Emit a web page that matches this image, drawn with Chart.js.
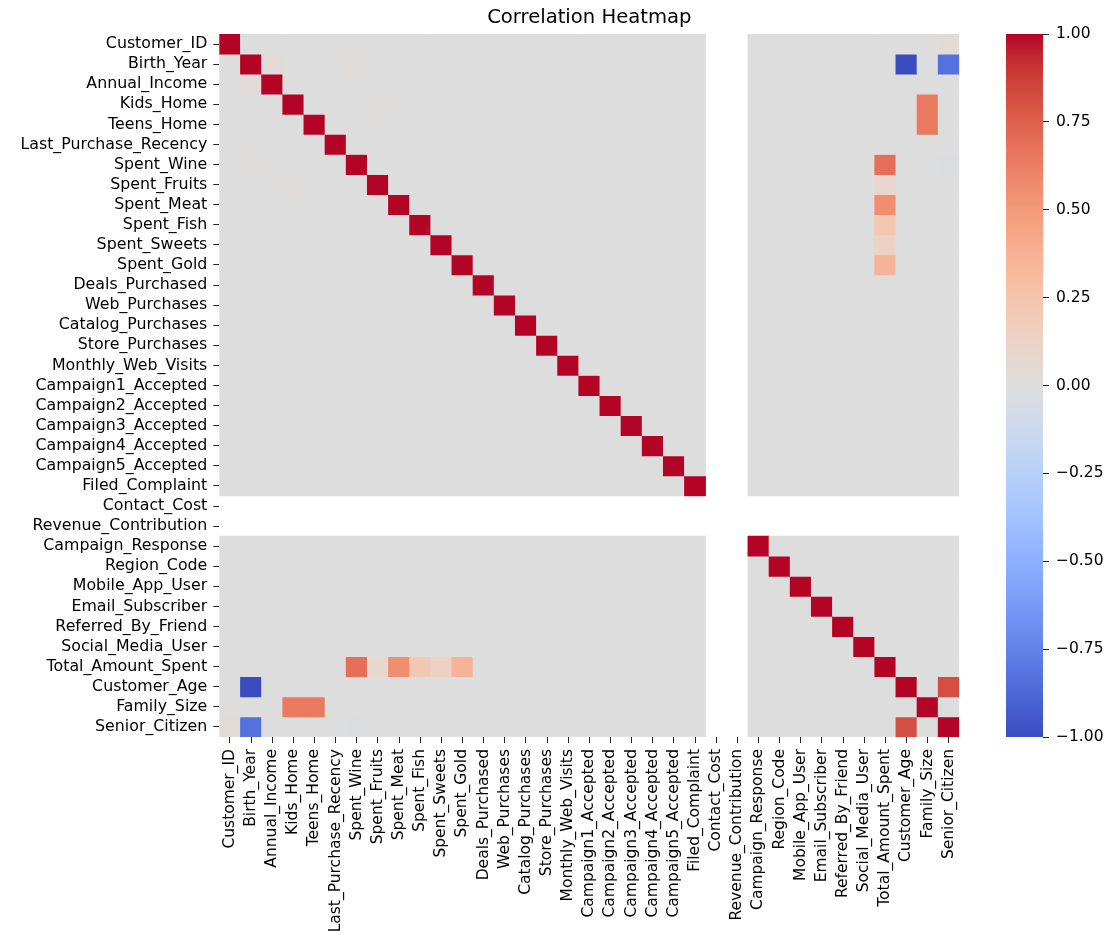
<!DOCTYPE html>
<html>
<head>
<meta charset="utf-8">
<script src="https://cdn.jsdelivr.net/npm/chart.js@4.4.1/dist/chart.umd.min.js"></script>
<style>
  html, body { margin: 0; padding: 0; background: #ffffff; }
  #wrap { position: relative; width: 1110px; height: 938px; }
  #wrap canvas { position: absolute; top: 0; }
  #main { left: 0; }
  #cbar { left: 960px; }
</style>
</head>
<body>
<div id="wrap">
  <canvas id="main" width="1110" height="938"></canvas>
  <canvas id="cbar" width="150" height="938"></canvas>
</div>
<script>
// ---------------- DATA ----------------
const variables = [
  'Customer_ID', 'Birth_Year', 'Annual_Income', 'Kids_Home', 'Teens_Home',
  'Last_Purchase_Recency', 'Spent_Wine', 'Spent_Fruits', 'Spent_Meat', 'Spent_Fish',
  'Spent_Sweets', 'Spent_Gold', 'Deals_Purchased', 'Web_Purchases', 'Catalog_Purchases',
  'Store_Purchases', 'Monthly_Web_Visits', 'Campaign1_Accepted', 'Campaign2_Accepted',
  'Campaign3_Accepted', 'Campaign4_Accepted', 'Campaign5_Accepted', 'Filed_Complaint',
  'Contact_Cost', 'Revenue_Contribution', 'Campaign_Response', 'Region_Code',
  'Mobile_App_User', 'Email_Subscriber', 'Referred_By_Friend', 'Social_Media_User',
  'Total_Amount_Spent', 'Customer_Age', 'Family_Size', 'Senior_Citizen'
];

// Constant columns -> correlation undefined (blank cells)
const undefinedVars = ['Contact_Cost', 'Revenue_Contribution'];

// Notable correlations (symmetric)
const strongPairs = [
  ['Birth_Year', 'Customer_Age', -1.00],
  ['Birth_Year', 'Senior_Citizen', -0.83],
  ['Customer_Age', 'Senior_Citizen', 0.82],
  ['Kids_Home', 'Family_Size', 0.65],
  ['Teens_Home', 'Family_Size', 0.65],
  ['Spent_Wine', 'Total_Amount_Spent', 0.69],
  ['Spent_Fruits', 'Total_Amount_Spent', 0.08],
  ['Spent_Meat', 'Total_Amount_Spent', 0.56],
  ['Spent_Fish', 'Total_Amount_Spent', 0.22],
  ['Spent_Sweets', 'Total_Amount_Spent', 0.14],
  ['Spent_Gold', 'Total_Amount_Spent', 0.36]
];

// A few faint near-zero correlations visible as slight tints
const weakPairs = [
  ['Customer_ID', 'Senior_Citizen', 0.03],
  ['Birth_Year', 'Annual_Income', 0.02],
  ['Birth_Year', 'Spent_Wine', 0.015],
  ['Spent_Fruits', 'Kids_Home', 0.015],
  ['Spent_Wine', 'Senior_Citizen', -0.02]
];

// Colour-bar ticks
const cbarTicks = [-1.00, -0.75, -0.50, -0.25, 0.00, 0.25, 0.50, 0.75, 1.00];

// coolwarm colormap (Moreland), 33 control points
const coolwarm = [
  [59,76,192],[68,90,204],[77,104,215],[87,117,225],[98,130,234],[108,142,241],
  [119,154,247],[130,165,251],[141,176,254],[152,185,255],[163,194,255],[174,201,253],
  [184,208,249],[194,213,244],[204,217,238],[213,219,230],[221,221,221],[229,216,209],
  [236,211,197],[241,204,185],[245,196,173],[247,187,160],[247,177,148],[247,166,135],
  [244,154,123],[241,141,111],[236,127,99],[229,112,88],[222,96,77],[213,80,66],
  [203,62,56],[192,40,47],[180,4,38]
];

// ---------------- BUILD ----------------
const n = variables.length;
const idx = {};
variables.forEach((v, i) => idx[v] = i);
const matrix = variables.map((r, i) => variables.map((c, j) => {
  if (undefinedVars.includes(r) || undefinedVars.includes(c)) return null;
  return i === j ? 1 : 0;
}));
[...strongPairs, ...weakPairs].forEach(([a, b, v]) => {
  matrix[idx[a]][idx[b]] = v;
  matrix[idx[b]][idx[a]] = v;
});

function cmap(v) {
  let t = (v + 1) / 2;
  t = Math.max(0, Math.min(1, t));
  const pos = t * (coolwarm.length - 1);
  const i = Math.min(Math.floor(pos), coolwarm.length - 2);
  const f = pos - i;
  const a = coolwarm[i], b = coolwarm[i + 1];
  const c = a.map((x, k) => Math.round(x + (b[k] - x) * f));
  return `rgb(${c[0]},${c[1]},${c[2]})`;
}

const FONT = 'DejaVu Sans';
const XTICK_SIZE = 15.5;
const YTICK_SIZE = 15.8;

const datasets = variables.map((rowName, r) => ({
  label: rowName,
  data: variables.map((_, c) => matrix[r][c] === null ? null : [r, r + 1]),
  backgroundColor: variables.map((_, c) => matrix[r][c] === null ? 'rgba(0,0,0,0)' : cmap(matrix[r][c])),
  borderWidth: 0,
  barPercentage: 1,
  categoryPercentage: 1,
  grouped: false
}));

new Chart(document.getElementById('main'), {
  type: 'bar',
  data: { labels: variables, datasets },
  options: {
    responsive: false,
    devicePixelRatio: 1,
    animation: false,
    events: [],
    layout: { padding: { left: 0, right: 150.7, top: 0, bottom: 0 } },
    plugins: {
      legend: { display: false },
      tooltip: { enabled: false },
      title: {
        display: true,
        text: 'Correlation Heatmap',
        fullSize: false,
        color: '#000',
        font: { family: FONT, size: 19.6, weight: 'normal' },
        padding: { top: 6.5, bottom: 4 }
      }
    },
    scales: {
      x: {
        type: 'category',
        offset: true,
        grid: { display: true, drawOnChartArea: false, drawTicks: true, tickLength: 6, offset: false, color: '#222', lineWidth: 1 },
        border: { display: false },
        ticks: {
          autoSkip: false, minRotation: 90, maxRotation: 90, padding: 6,
          color: '#000', font: { family: FONT, size: XTICK_SIZE }
        },
        afterFit: (s) => { s.height = 201; }
      },
      y: {
        type: 'linear',
        min: 0, max: n,
        reverse: true,
        grid: { display: true, drawOnChartArea: false, drawTicks: true, tickLength: 6, color: '#222', lineWidth: 1 },
        border: { display: false },
        afterBuildTicks: (s) => { s.ticks = variables.map((_, i) => ({ value: i + 0.5 })); },
        ticks: {
          autoSkip: false, padding: 6, color: '#000',
          font: { family: FONT, size: YTICK_SIZE },
          callback: (v, i) => variables[i]
        },
        afterFit: (s) => { s.width = 219.3; }
      }
    }
  }
});

// ---------------- COLOR BAR ----------------
new Chart(document.getElementById('cbar'), {
  type: 'bar',
  data: {
    labels: [''],
    datasets: [{
      data: [[cbarTicks[0], cbarTicks[cbarTicks.length - 1]]],
      borderWidth: 0,
      barPercentage: 1,
      categoryPercentage: 1,
      backgroundColor: (ctx) => {
        const ch = ctx.chart;
        const area = ch.chartArea;
        if (!area) return cmap(0);
        const g = ch.ctx.createLinearGradient(0, area.bottom, 0, area.top);
        coolwarm.forEach((c, k) => g.addColorStop(k / (coolwarm.length - 1), `rgb(${c[0]},${c[1]},${c[2]})`));
        return g;
      }
    }]
  },
  options: {
    responsive: false,
    devicePixelRatio: 1,
    animation: false,
    events: [],
    layout: { padding: { left: 46, right: 0, top: 34, bottom: 201 } },
    plugins: { legend: { display: false }, tooltip: { enabled: false } },
    scales: {
      x: { display: false },
      y: {
        type: 'linear',
        position: 'right',
        min: -1, max: 1,
        grid: { display: true, drawOnChartArea: false, drawTicks: true, tickLength: 6, color: '#222', lineWidth: 1 },
        border: { display: false },
        afterBuildTicks: (s) => { s.ticks = cbarTicks.map(v => ({ value: v })); },
        ticks: {
          padding: 7, color: '#000',
          font: { family: FONT, size: XTICK_SIZE },
          callback: (v) => (v < 0 ? '\u2212' : '') + Math.abs(v).toFixed(2)
        },
        afterFit: (s) => { s.width = 67; }
      }
    }
  }
});
</script>
</body>
</html>
